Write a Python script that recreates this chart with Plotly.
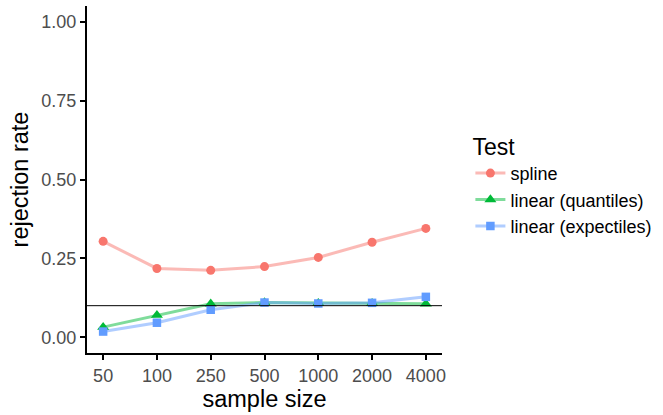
import plotly.graph_objects as go

sample_sizes = ["50", "100", "250", "500", "1000", "2000", "4000"]
spline = [0.304, 0.218, 0.212, 0.224, 0.253, 0.301, 0.345]
linear_quantiles = [0.032, 0.070, 0.106, 0.110, 0.108, 0.108, 0.106]
linear_expectiles = [0.018, 0.046, 0.087, 0.110, 0.107, 0.109, 0.128]
nominal_level = 0.1

series = [
    ("spline", spline, "#F8766D", "rgba(248,118,109,0.5)", "circle", 9),
    ("linear (quantiles)", linear_quantiles, "#00BA38", "rgba(0,186,56,0.5)", "triangle-up", 10.5),
    ("linear (expectiles)", linear_expectiles, "#619CFF", "rgba(97,156,255,0.5)", "square", 8.5),
]

FONT = "Liberation Sans, Arial, sans-serif"
fig = go.Figure()
xpos = list(range(len(sample_sizes)))
for name, vals, col, lcol, sym, sz in series:
    fig.add_trace(go.Scatter(
        x=xpos, y=vals, name=name, mode="lines",
        line=dict(color=lcol, width=3), showlegend=False, hoverinfo="skip"))
for name, vals, col, lcol, sym, sz in series:
    fig.add_trace(go.Scatter(
        x=xpos, y=vals, name=name, mode="markers",
        marker=dict(color=col, symbol=sym, size=sz, line=dict(width=0)),
        showlegend=False))
# legend entries
for name, vals, col, lcol, sym, sz in series:
    fig.add_trace(go.Scatter(
        x=[None], y=[None], name=name, mode="lines+markers",
        line=dict(color=lcol, width=3),
        marker=dict(color=col, symbol=sym, size=sz, line=dict(width=0))))

fig.add_hline(y=nominal_level, line=dict(color="black", width=1))

fig.update_layout(
    width=663, height=415,
    margin=dict(l=87, r=219, t=6, b=62),
    plot_bgcolor="white", paper_bgcolor="white",
    font=dict(family=FONT, color="black"),
    xaxis=dict(
        range=[-0.3, 6.3], tickmode="array", tickvals=xpos, ticktext=sample_sizes,
        showgrid=False, zeroline=False, showline=True, linecolor="black", linewidth=2,
        ticks="outside", ticklen=5, tickcolor="black", tickwidth=1.5,
        tickfont=dict(size=18, color="#4d4d4d", family=FONT),
        title=dict(text="sample size", font=dict(size=23.5, color="black"), standoff=4),
    ),
    yaxis=dict(
        range=[-0.05, 1.05], tickvals=[0, 0.25, 0.5, 0.75, 1.0],
        ticktext=["0.00", "0.25", "0.50", "0.75", "1.00"],
        showgrid=False, zeroline=False, showline=True, linecolor="black", linewidth=2,
        ticks="outside", ticklen=5, tickcolor="black", tickwidth=1.5,
        tickfont=dict(size=18, color="#4d4d4d", family=FONT),
        title=dict(text="rejection rate", font=dict(size=23.5, color="black"), standoff=6),
    ),
    legend=dict(
        title=dict(text="Test", font=dict(size=23, color="black")),
        font=dict(size=18, color="black"),
        x=1.08, xanchor="left", y=0.657, yanchor="top",
        tracegroupgap=0, itemsizing="trace",
    ),
)

fig.write_html("out.html")
